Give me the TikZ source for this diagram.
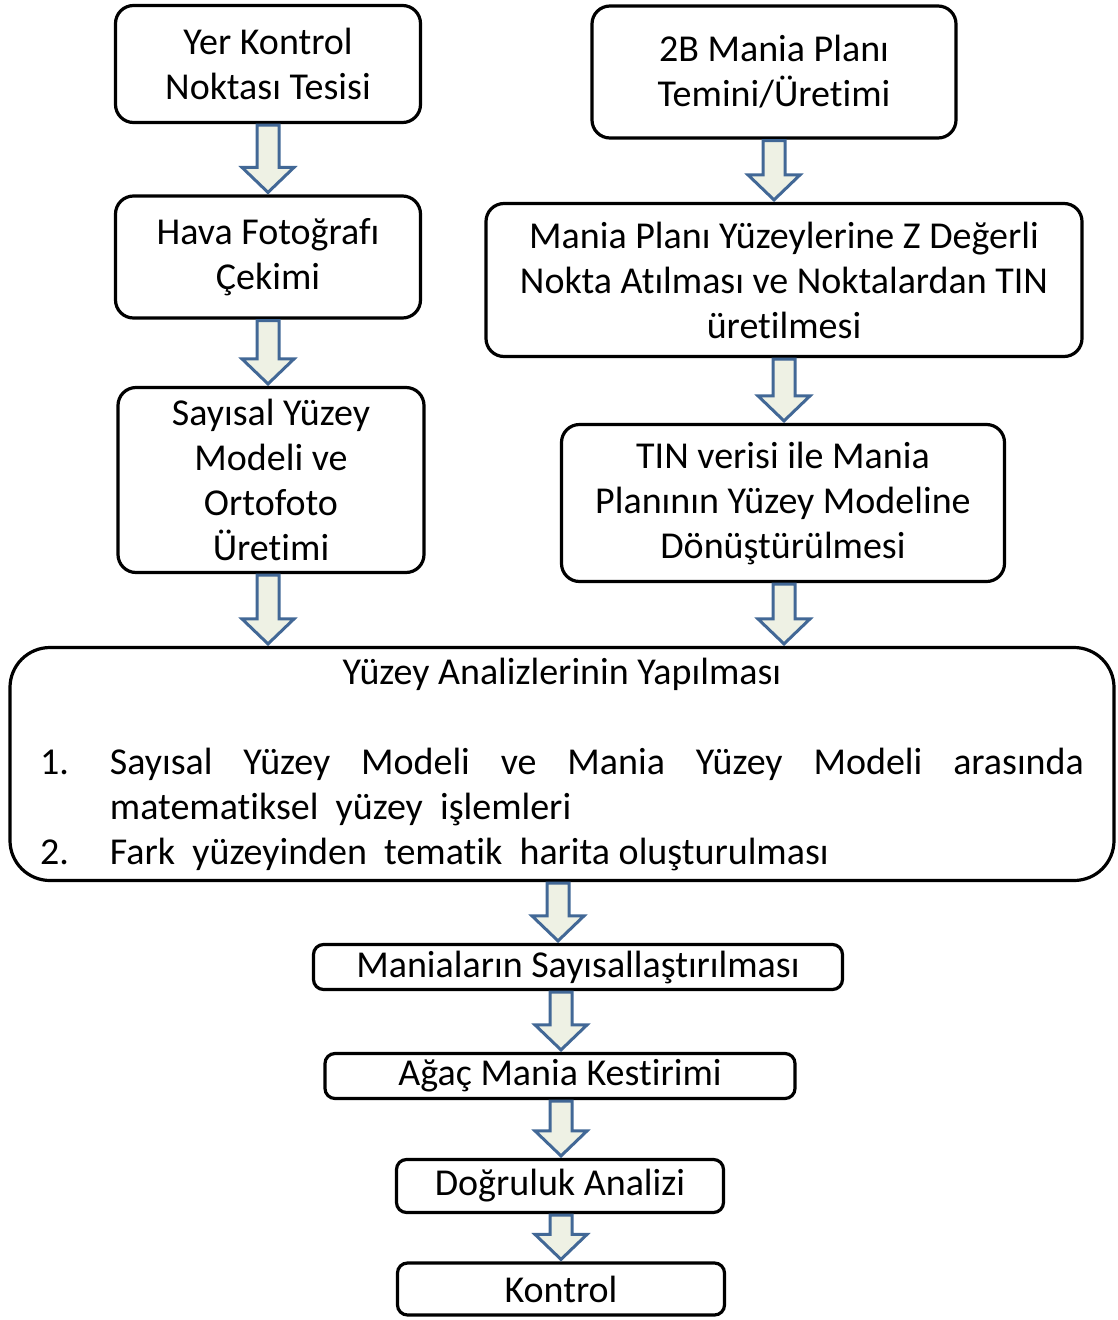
\documentclass[tikz,border=0pt]{standalone}
\usepackage{fontspec}
\setmainfont{Carlito}[Ligatures={NoCommon,NoRequired,NoContextual}]
\usetikzlibrary{calc}
\definecolor{okkenar}{RGB}{66,104,150}
\definecolor{okdolgu}{RGB}{238,241,228}
\tikzset{
  kutu/.style={draw, line width=3.2pt, rounded corners=18pt, align=center,
    inner sep=0pt, font=\fontsize{38}{45}\selectfont},
  blokok/.style={draw=okkenar, fill=okdolgu, line width=3pt, line join=miter}
}
% ok: #1 = x konumu (pt), #2 = kaynak, #3 = hedef
\newcommand{\blokok}[3]{%
  \draw[blokok] let \p1=(#2.south), \p2=(#3.north) in
    (#1pt-11pt,\y1-1pt) -- (#1pt-11pt,\y2+27pt) -- (#1pt-26pt,\y2+27pt) -- (#1pt,\y2+2pt)
    -- (#1pt+26pt,\y2+27pt) -- (#1pt+11pt,\y2+27pt) -- (#1pt+11pt,\y1-1pt) -- cycle;}
\begin{document}
\begin{tikzpicture}[x=1pt,y=-1pt]
\useasboundingbox (0,0) rectangle (1117,1320);

% sol kol
\node[kutu, minimum width=305, minimum height=117] (yer) at (268,64) {Yer Kontrol\\Noktası Tesisi};
\node[kutu, minimum width=305, minimum height=122] (hava) at (268,257) {Hava Fotoğrafı\\Çekimi};
\node[kutu, minimum width=306, minimum height=185] (sym) at (271,480) {Sayısal Yüzey\\Modeli ve\\Ortofoto\\Üretimi};

% sag kol
\node[kutu, minimum width=364, minimum height=132] (plan) at (774,72) {2B Mania Planı\\Temini/Üretimi};
\node[kutu, minimum width=596, minimum height=153] (tin) at (784,280) {Mania Planı Yüzeylerine Z Değerli\\Nokta Atılması ve Noktalardan TIN\\üretilmesi};
\node[kutu, minimum width=443, minimum height=157] (model) at (783,503) {TIN verisi ile Mania\\Planının Yüzey Modeline\\Dönüştürülmesi};

% analiz
\node[kutu, rounded corners=40pt, minimum width=1104, minimum height=233, text width=1044pt, align=justify] (analiz) at (562,764)
  {\noindent\hspace*{\fill}Yüzey Analizlerinin Yapılması\hspace*{\fill}\par
   \vspace{45pt}
   \noindent\hangindent=70pt\hangafter=1\makebox[70pt][l]{1.}Sayısal Yüzey Modeli ve Mania Yüzey Modeli arasında\linebreak matematiksel\ \ yüzey\ \ işlemleri\par
   \noindent\makebox[70pt][l]{2.}Fark\ \ yüzeyinden\ \ tematik\ \ harita oluşturulması\par};

% alt zincir
\node[kutu, rounded corners=10pt, minimum width=529, minimum height=45] (sayis) at (578,967) {Maniaların Sayısallaştırılması};
\node[kutu, rounded corners=10pt, minimum width=470, minimum height=45] (agac) at (560,1076) {Ağaç Mania Kestirimi};
\node[kutu, rounded corners=10pt, minimum width=327, minimum height=53] (dogru) at (560,1186) {Doğruluk Analizi};
\node[kutu, rounded corners=10pt, minimum width=327, minimum height=52] (kontrol) at (561,1289) {Kontrol};

% oklar
\blokok{268}{yer}{hava}
\blokok{268}{hava}{sym}
\blokok{268}{sym}{analiz}
\blokok{774}{plan}{tin}
\blokok{784}{tin}{model}
\blokok{784}{model}{analiz}
\blokok{558}{analiz}{sayis}
\blokok{561}{sayis}{agac}
\blokok{561}{agac}{dogru}
\blokok{561}{dogru}{kontrol}
\end{tikzpicture}
\end{document}
